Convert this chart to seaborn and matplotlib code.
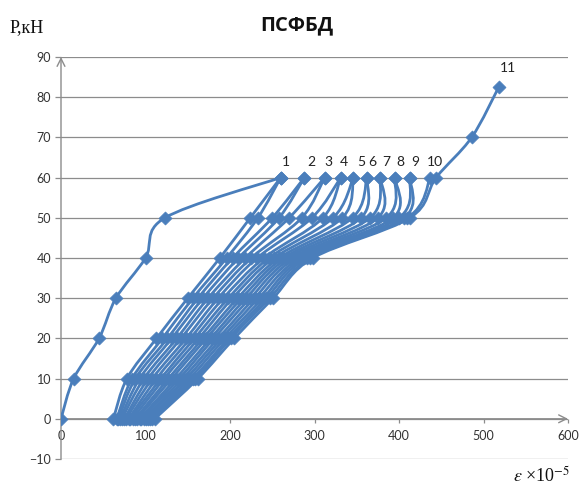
import numpy as np
import pandas as pd
import matplotlib
matplotlib.use("Agg")
import matplotlib.pyplot as plt
import seaborn as sns
from matplotlib.path import Path
from matplotlib.patches import PathPatch

# ---------------- data ----------------
loads = [0, 10, 20, 30, 40, 50, 60]

# leftmost curve (ends at label 1)
left_strain = [0, 15, 45, 65, 100, 123, 260]

# bundle curves: strain at P = 0, 10, 20, 30, 40, 50, 60 kN
b01 = [62, 78, 113, 150, 188, 224, 260]
b02 = [66, 84, 120, 156, 196, 233, 260]
b03 = [68, 88, 126, 162, 203, 250, 288]
b04 = [70, 93, 131, 168, 210, 258, 288]
b05 = [72, 98, 137, 174, 218, 270, 312]
b06 = [75, 103, 142, 180, 225, 285, 312]
b07 = [77, 108, 148, 186, 232, 297, 331]
b08 = [80, 113, 153, 192, 240, 310, 331]
b09 = [82, 118, 158, 198, 246, 322, 346]
b10 = [85, 122, 163, 203, 252, 333, 346]
b11 = [88, 127, 168, 209, 258, 345, 362]
b12 = [90, 131, 172, 214, 263, 355, 362]
b13 = [93, 136, 177, 219, 268, 366, 378]
b14 = [95, 140, 181, 224, 273, 375, 378]
b15 = [98, 144, 186, 229, 278, 385, 395]
b16 = [100, 148, 190, 234, 283, 393, 395]
b17 = [103, 152, 194, 239, 287, 400, 413]
b18 = [105, 156, 198, 243, 291, 406, 413]
b19 = [108, 159, 201, 247, 295, 410, 437]
b20 = [111, 162, 205, 251, 298, 413, 444, 486, 518]
b20_loads = [0, 10, 20, 30, 40, 50, 60, 70, 82.5]

bundle = [b01, b02, b03, b04, b05, b06, b07, b08, b09, b10,
          b11, b12, b13, b14, b15, b16, b17, b18, b19]

label_text = ["1", "2", "3", "4", "5", "6", "7", "8", "9", "10", "11"]
label_strain = [260, 288, 312, 331, 346, 362, 378, 395, 413, 437, 518]
label_load = [60, 60, 60, 60, 60, 60, 60, 60, 60, 60, 82.5]
label_dx = [4, 5, 3, 2, 6, 4, 4, 4, 4, 3, 7]   # offsets in points (style)

xticks = [0, 100, 200, 300, 400, 500, 600]
yticks = [-10, 0, 10, 20, 30, 40, 50, 60, 70, 80, 90]

# ---------------- build table ----------------
series = [("L", left_strain, loads)]
for i, b in enumerate(bundle):
    series.append((f"b{i+1:02d}", b, loads))
series.append(("b20", b20, b20_loads))

rows = []
for name, xs, ys in series:
    for x, y in zip(xs, ys):
        rows.append({"series": name, "strain": x, "load": y})
df = pd.DataFrame(rows)

# ---------------- style ----------------
sns.set_theme(style="white")
plt.rcParams["font.family"] = ["Lato", "DejaVu Sans"]
plt.rcParams["mathtext.fontset"] = "stix"

BLUE = "#4a7ebb"
GRID = "#8c8c8c"

fig = plt.figure(figsize=(5.8, 4.88), dpi=100)
ax = fig.add_axes([61 / 580, 1 - 459 / 488, (568 - 61) / 580, (459 - 57) / 488])


def smooth_path(xs, ys):
    pts = np.column_stack([xs, ys]).astype(float)
    n = len(pts)
    verts = [pts[0]]
    codes = [Path.MOVETO]
    for i in range(n - 1):
        p0 = pts[i - 1] if i > 0 else pts[i]
        p1 = pts[i]
        p2 = pts[i + 1]
        p3 = pts[i + 2] if i + 2 < n else pts[i + 1]
        c1 = p1 + (p2 - p0) / 6.0
        c2 = p2 - (p3 - p1) / 6.0
        verts += [c1, c2, p2]
        codes += [Path.CURVE4] * 3
    return Path(verts, codes)


for name, grp in df.groupby("series", sort=False):
    ax.add_patch(PathPatch(smooth_path(grp["strain"].values, grp["load"].values),
                           facecolor="none", edgecolor=BLUE, lw=2.0,
                           capstyle="round", joinstyle="round", zorder=3))

sns.scatterplot(data=df, x="strain", y="load", marker="D", s=44,
                color=BLUE, edgecolor=BLUE, linewidth=0.5, ax=ax, zorder=4,
                legend=False)

for t, x, y, dx in zip(label_text, label_strain, label_load, label_dx):
    dy = 14 if t == "11" else 11
    ax.annotate(t, (x, y), xytext=(dx, dy), textcoords="offset points",
                ha="center", va="center", fontsize=10, color="#222222")

ax.set_xlim(0, 600)
ax.set_ylim(-10, 90)
ax.set_xticks(xticks)
ax.set_yticks(yticks)
ax.set_xlabel("")
ax.set_ylabel("")
ax.yaxis.grid(True, color=GRID, lw=0.9)
ax.xaxis.grid(False)
ax.set_axisbelow(True)

for s in ["top", "right", "left"]:
    ax.spines[s].set_visible(False)
ax.spines["bottom"].set_position(("data", 0))
ax.spines["bottom"].set_color("none")

ax.tick_params(axis="y", direction="out", length=4, width=0.9, color=GRID,
               labelsize=9, labelcolor="#333333", pad=3, left=True)
ax.tick_params(axis="x", direction="out", length=3, width=0.9, color=GRID,
               labelsize=9, labelcolor="#333333", pad=5, bottom=True)

# axis lines with arrows
ax.annotate("", xy=(0, 90), xytext=(0, -10), xycoords="data",
            arrowprops=dict(arrowstyle="->", color=GRID, lw=1.0,
                            shrinkA=0, shrinkB=0, mutation_scale=14),
            annotation_clip=False, zorder=2)
ax.annotate("", xy=(600, 0), xytext=(0, 0), xycoords="data",
            arrowprops=dict(arrowstyle="->", color=GRID, lw=1.0,
                            shrinkA=0, shrinkB=0, mutation_scale=14),
            annotation_clip=False, zorder=2)

fig.text(297 / 580, 1 - 25 / 488, "ПСФБД", ha="center", va="center",
         fontsize=14.5, fontweight="bold", family=["Open Sans", "DejaVu Sans"],
         color="#111111")
fig.text(10 / 580, 1 - 28 / 488, "P,кН", ha="left", va="center",
         fontsize=13, family=["Liberation Serif", "DejaVu Serif"],
         color="#111111")
fig.text(513 / 580, 1 - 476 / 488, r"$\varepsilon$ ×10$^{\mathrm{-5}}$",
         ha="left", va="center", fontsize=13,
         family=["Liberation Serif", "DejaVu Serif"], color="#111111")

fig.savefig("out.png", dpi=100)
